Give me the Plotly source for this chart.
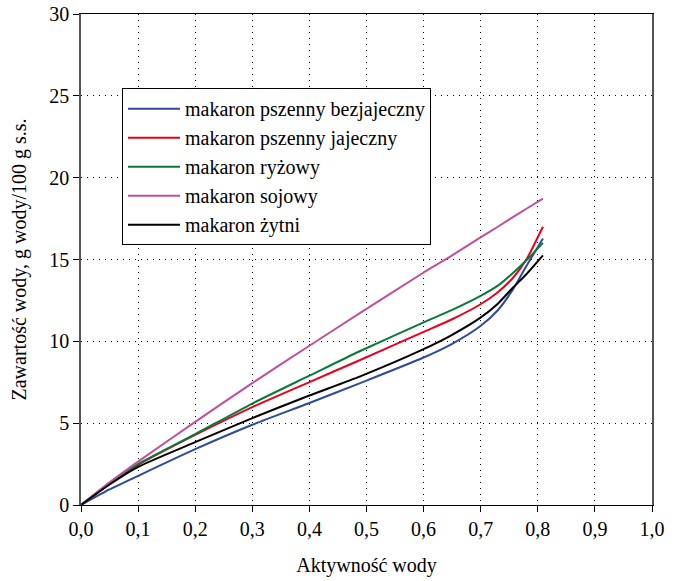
import plotly.graph_objects as go

aw = [0.0, 0.05, 0.1, 0.2, 0.3, 0.4, 0.489, 0.598, 0.65, 0.699, 0.73, 0.757, 0.78, 0.809]

bezjajeczny = [0.0, 0.95, 1.78, 3.41, 4.90, 6.23, 7.45, 8.98, 9.85, 10.92, 11.9, 13.2, 14.6, 16.29]
jajeczny    = [0.0, 1.30, 2.45, 4.28, 5.98, 7.51, 8.86, 10.55, 11.35, 12.25, 13.0, 13.9, 15.0, 17.0]
ryzowy      = [0.0, 1.32, 2.50, 4.33, 6.20, 7.90, 9.41, 11.13, 11.92, 12.76, 13.4, 14.19, 14.95, 16.02]
sojowy      = [0.0, 1.38, 2.65, 5.08, 7.45, 9.73, 11.74, 14.16, 15.25, 16.34, 17.0, 17.6, 18.1, 18.72]
zytni       = [0.0, 1.25, 2.33, 3.84, 5.31, 6.69, 7.86, 9.49, 10.4, 11.43, 12.3, 13.3, 14.1, 15.25]

names = ["makaron pszenny bezjajeczny", "makaron pszenny jajeczny", "makaron ryżowy",
         "makaron sojowy", "makaron żytni"]
series = [bezjajeczny, jajeczny, ryzowy, sojowy, zytni]
colors = ["#2E4A9E", "#E8001C", "#0A7A3A", "#C0509A", "#000000"]

x_ticks = [i / 10 for i in range(11)]
x_ticktext = ["0,0", "0,1", "0,2", "0,3", "0,4", "0,5", "0,6", "0,7", "0,8", "0,9", "1,0"]
y_ticks = [0, 5, 10, 15, 20, 25, 30]

FONT = "Liberation Serif, Times New Roman, serif"
FS = 20

fig = go.Figure()
for n, s, c in zip(names, series, colors):
    fig.add_trace(go.Scatter(x=aw, y=s, name=n, mode="lines",
                             line=dict(color=c, width=2, shape="spline", smoothing=0.6)))

fig.update_layout(
    width=678, height=581,
    margin=dict(l=81, r=26, t=14, b=76, autoexpand=False),
    paper_bgcolor="white", plot_bgcolor="white",
    font=dict(family=FONT, size=FS, color="black"),
    showlegend=True,
    legend=dict(x=0.0718, y=0.849, xanchor="left", yanchor="top",
                bgcolor="white", bordercolor="black", borderwidth=1,
                font=dict(family=FONT, size=FS), tracegroupgap=0,
                itemwidth=52),
    xaxis=dict(range=[0, 1], tickvals=x_ticks, ticktext=x_ticktext,
               showgrid=True, gridcolor="black", griddash="1px,5px", gridwidth=1,
               showline=True, linecolor="black", linewidth=1, mirror=True,
               ticks="outside", ticklen=6, tickcolor="black", zeroline=False,
               automargin=False,
               title=dict(text="Aktywność wody", font=dict(family=FONT, size=FS), standoff=18)),
    yaxis=dict(range=[0, 30], tickvals=y_ticks,
               showgrid=True, gridcolor="black", griddash="1px,5px", gridwidth=1,
               showline=True, linecolor="#555555", linewidth=1.5, mirror=True,
               ticks="outside", ticklen=6, tickcolor="black", zeroline=False,
               automargin=False,
               title=dict(text="Zawartość wody, g wody/100 g s.s.", font=dict(family=FONT, size=FS), standoff=17)),
)

fig.write_html("out.html", config={"displayModeBar": False},
               post_script="document.body.style.margin='0';document.body.style.padding='0';")
